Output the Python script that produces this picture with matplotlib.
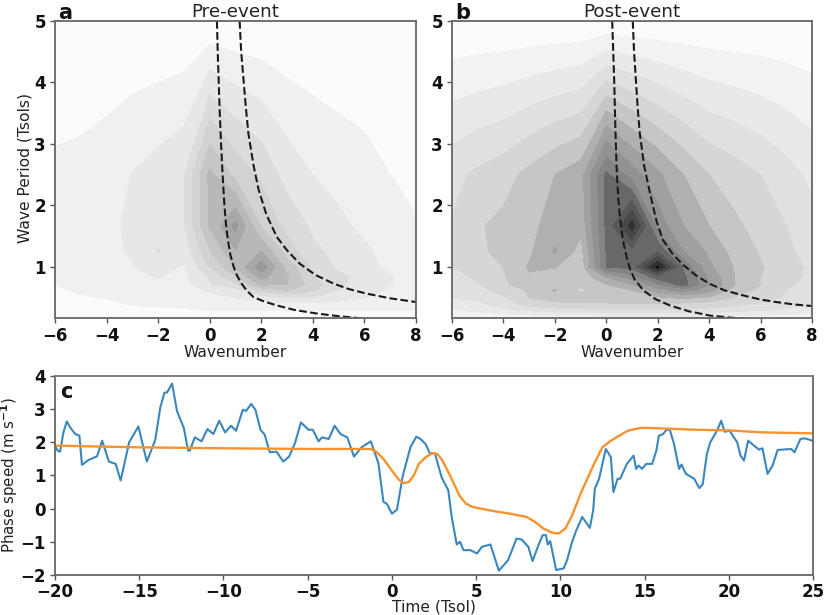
import numpy as np
import matplotlib
matplotlib.use("Agg")
import matplotlib.pyplot as plt

wavenumbers = [-6, -5, -4, -3, -2, -1, 0, 1, 2, 3, 4, 5, 6, 7, 8]
periods = [5.0, 2.5, 1.667, 1.25, 1.0, 0.833, 0.714, 0.625, 0.5, 0.4, 0.3, 0.2, 0.14]

power_pre = [
    [.05, .05, .05, .05, .05, .05, .05, .05, .05, .05, .05, .05, .05, .05, .05],
    [1.21, 1.32, 1.58, 2.03, 2.42, 2.9, 6.25, 4.7, 3.8, 2.6, 2.0, 1.63, 1.37, 1.0, .85],
    [1.5, 1.6, 1.75, 2.2, 2.7, 2.9, 6.1, 8.3, 4.9, 3.7, 2.8, 2.25, 1.75, 1.3, 1.05],
    [1.45, 1.55, 1.75, 2.1, 3.05, 2.3, 4.9, 6.9, 7.0, 4.5, 3.2, 2.75, 2.2, 1.6, 1.2],
    [1.35, 1.5, 1.7, 1.95, 2.4, 1.9, 4.0, 6.0, 8.6, 5.6, 3.8, 2.8, 2.4, 1.7, 1.35],
    [1.1, 1.35, 1.5, 1.6, 2.05, 1.75, 3.1, 4.8, 7.3, 6.1, 4.1, 3.3, 2.6, 2.1, 1.4],
    [1.0, 1.25, 1.45, 1.55, 1.7, 1.6, 2.9, 3.6, 6.2, 6.0, 4.5, 3.1, 2.7, 2.05, 1.4],
    [.85, 1.15, 1.3, 1.4, 1.6, 1.6, 2.1, 2.6, 4.3, 5.1, 4.2, 3.0, 2.5, 1.85, 1.3],
    [.5, .9, 1.05, 1.3, 1.45, 1.5, 1.8, 2.0, 2.5, 3.0, 2.9, 2.4, 2.0, 1.7, 1.3],
    [.3, .5, .8, 1.1, 1.2, 1.3, 1.4, 1.5, 1.6, 1.8, 1.8, 1.7, 1.6, 1.5, 1.3],
    [.2, .3, .5, .7, .8, .9, 1.05, 1.1, 1.1, 1.1, 1.1, 1.05, 1.05, 1.05, 1.05],
    [.1, .1, .15, .2, .2, .2, .2, .2, .2, .2, .2, .2, .2, .2, .2],
    [.05, .05, .05, .05, .05, .05, .05, .05, .05, .05, .05, .05, .05, .05, .05],
]

power_post = [
    [.1, .1, .1, .1, .1, .1, .1, .1, .1, .1, .1, .1, .1, .1, .1],
    [3.7, 4.2, 4.6, 5.3, 6.0, 6.6, 10.2, 8.5, 7.2, 6.0, 5.0, 4.5, 4.0, 3.4, 2.75],
    [4.05, 4.9, 5.25, 5.6, 6.6, 6.3, 10.2, 13.5, 8.6, 7.0, 6.0, 5.2, 4.6, 4.0, 3.3],
    [4.1, 4.85, 5.2, 5.8, 7.1, 5.6, 10.05, 10.6, 10.9, 8.0, 6.8, 5.6, 4.9, 4.2, 3.6],
    [3.95, 4.5, 5.0, 6.1, 6.05, 5.3, 10.0, 10.3, 14.2, 9.8, 7.2, 5.9, 5.1, 4.4, 3.8],
    [3.6, 4.2, 4.9, 5.9, 5.5, 5.2, 7.0, 8.5, 10.5, 10.3, 7.8, 6.0, 5.0, 4.4, 3.7],
    [3.3, 3.9, 4.9, 5.3, 5.4, 5.3, 6.0, 7.0, 8.8, 10.4, 8.0, 6.0, 5.0, 4.2, 3.6],
    [3.1, 3.6, 4.5, 5.1, 6.1, 4.7, 5.9, 6.0, 7.5, 8.5, 7.5, 5.5, 4.8, 4.0, 3.5],
    [3.0, 3.1, 3.8, 5.0, 5.4, 5.4, 5.5, 5.5, 5.8, 6.2, 5.8, 4.9, 4.3, 3.9, 3.3],
    [2.6, 2.9, 3.3, 4.5, 4.8, 4.9, 4.9, 5.0, 4.9, 4.8, 4.6, 4.2, 3.9, 3.5, 3.1],
    [1.9, 2.3, 2.8, 3.2, 3.6, 3.8, 3.9, 3.9, 3.9, 3.9, 3.7, 3.4, 3.1, 2.9, 2.6],
    [1.2, 1.3, 1.5, 1.7, 1.8, 1.9, 2.0, 2.0, 2.0, 2.0, 2.0, 1.9, 1.8, 1.7, 1.5],
    [.3, .3, .3, .3, .3, .3, .3, .3, .3, .3, .3, .3, .3, .3, .3],
]

levels = list(range(0, 18))
greys_pre = ['#fbfbfb', '#f0f0f0', '#e7e7e7', '#dcdcdc', '#d2d2d2', '#c6c6c6', '#b8b8b8',
             '#a8a8a8', '#989898', '#8c8c8c', '#7c7c7c', '#6c6c6c', '#5c5c5c', '#4c4c4c',
             '#3c3c3c', '#2c2c2c', '#1c1c1c']
greys_post = ['#fbfbfb', '#f2f2f2', '#e9e9e9', '#e0e0e0', '#d6d6d6', '#c6c6c6', '#b0b0b0',
              '#a0a0a0', '#929292', '#848484', '#686868', '#585858', '#484848', '#303030',
              '#0a0a0a', '#0a0a0a', '#0a0a0a']

curve_a_low_k = [.28, .31, .35, .39, .44, .5, .57, .63, .70, .8, .93, 1.07, 1.25, 1.45, 1.7, 2.1, 2.6, 3.3, 4.2, 5, 6]
curve_a_low_t = [5, 4.5, 4, 3.5, 3, 2.5, 2.0, 1.7, 1.45, 1.2, 1.0, .85, .72, .61, .51, .44, .375, .30, .24, .2, .16]
curve_a_high_k = [1.16, 1.22, 1.32, 1.4, 1.5, 1.7, 1.9, 2.2, 2.6, 3.0, 3.5, 4.1, 4.8, 5.4, 6.1, 7, 8]
curve_a_high_t = [5, 4.5, 4, 3.6, 3.17, 2.65, 2.25, 1.85, 1.49, 1.27, 1.05, .87, .73, .64, .565, .49, .43]
curve_b_low_k = [.23, .27, .31, .35, .40, .46, .53, .64, .79, .93, 1.1, 1.44, 1.9, 2.47, 3.2, 4.03, 5, 6.1]
curve_b_low_t = [5, 4.5, 4, 3.3, 2.63, 2.15, 1.82, 1.45, 1.16, .96, .8, .62, .48, .375, .28, .21, .17, .14]
curve_b_high_k = [1.03, 1.08, 1.15, 1.22, 1.3, 1.47, 1.7, 1.95, 2.2, 2.6, 3, 3.5, 4, 4.6, 5.3, 6, 6.6, 7.3, 8]
curve_b_high_t = [5, 4.5, 4.05, 3.6, 3.18, 2.65, 2.2, 1.75, 1.44, 1.2, 1.03, .86, .73, .62, .54, .47, .43, .39, .365]

time_blue = [-20, -19.85, -19.7, -19.5, -19.3, -19.1, -18.8, -18.55, -18.4, -18.0, -17.5, -17.2, -16.8, -16.4,
             -16.1, -15.6, -15.05, -14.55, -14.05, -13.75, -13.5, -13.35, -13.05, -12.75, -12.35, -12.1, -12,
             -11.7, -11.3, -10.95, -10.6, -10.25, -9.9, -9.55, -9.25, -8.85, -8.65, -8.35, -8.1, -7.8, -7.55,
             -7.25, -6.85, -6.45, -6.1, -5.75, -5.4, -4.95, -4.7, -4.35, -4.15, -3.75, -3.4, -3.05, -2.65,
             -2.25, -1.8, -1.25, -.8, -.5, -.3, 0, .3, .65, 1.1, 1.45, 1.7, 2.0, 2.25, 2.55, 2.95, 3.35, 3.55,
             3.85, 4.05, 4.25, 4.65, 5.05, 5.35, 5.85, 6.35, 6.9, 7.4, 7.7, 8.1, 8.35, 8.7, 8.95, 9.15, 9.25,
             9.4, 9.75, 10.2, 10.4, 10.7, 10.95, 11.3, 11.75, 11.95, 12.05, 12.3, 12.7, 13, 13.15, 13.4, 13.55,
             13.95, 14.35, 14.5, 14.65, 14.85, 15.1, 15.45, 15.7, 15.85, 16.1, 16.3, 16.5, 16.75, 17.05, 17.2,
             17.45, 17.95, 18.25, 18.45, 18.7, 18.9, 19.3, 19.55, 19.75, 20.05, 20.5, 20.7, 20.9, 21.15, 21.5,
             21.8, 22, 22.3, 22.6, 22.9, 23.7, 23.9, 24.25, 24.5, 24.85, 25]
speed_blue = [1.9, 1.75, 1.72, 2.3, 2.63, 2.45, 2.25, 2.2, 1.32, 1.47, 1.58, 2.05, 1.42, 1.35,
              .85, 2.0, 2.48, 1.42, 2.07, 3.05, 3.5, 3.5, 3.77, 2.93, 2.43, 1.75, 1.75,
              2.15, 2.03, 2.4, 2.25, 2.65, 2.3, 2.5, 2.35, 2.98, 2.95, 3.16, 2.98, 2.38, 2.23,
              1.7, 1.72, 1.42, 1.57, 1.98, 2.6, 2.38, 2.38, 2.03, 2.15, 2.1, 2.5, 2.25, 2.15,
              1.57, 1.85, 2.03, 1.37, .2, .15, -.15, -.03, 1.0, 1.85, 2.17, 2.1, 1.95, 1.67, 1.67, .95, .55, -.25,
              -1.08, -1.0, -1.25, -1.25, -1.35, -1.15, -1.08, -1.87, -1.55, -.9, -.93, -1.15, -1.58, -1.1, -.8, -.8, -1.08,
              -.98, -1.85, -1.8, -1.55, -1.0, -.65, -.25, -.58, -.05, .6, .9, 1.8, 1.55, .5, .9, .9,
              1.35, 1.6, 1.2, 1.3, 1.2, 1.35, 1.35, 1.75, 2.2, 2.25, 2.38, 2.38, 1.95, 1.2, 1.33,
              1.05, .9, .62, .73, 1.65, 2.0, 2.35, 2.65, 2.32, 2.35, 2.0, 1.6, 1.45, 2.05, 1.9,
              1.78, 1.82, 1.05, 1.3, 1.77, 1.8, 1.7, 2.1, 2.12, 2.07, 2.03]
time_orange = [-20, -15, -10, -5, -2, -1.3, -1, -.5, 0, .4, .7, 1, 1.3, 1.6, 2, 2.4, 2.7, 3, 3.5, 4, 4.4, 4.8,
               6, 7, 8, 8.5, 9, 9.5, 9.9, 10.3, 10.7, 11.2, 12, 12.5, 13, 14, 14.8, 16, 18, 20, 22, 25]
speed_orange = [1.9, 1.85, 1.82, 1.8, 1.8, 1.8, 1.75, 1.5, 1.15, .88, .77, .8, 1.0, 1.35, 1.55, 1.67, 1.65, 1.45,
                .95, .4, .15, .05, -.07, -.15, -.25, -.4, -.6, -.72, -.75, -.6, -.2, .45, 1.35, 1.85, 2.05,
                2.35, 2.44, 2.42, 2.38, 2.36, 2.3, 2.27]

plt.rcParams['font.family'] = 'DejaVu Sans'
W, H = 825, 615
fig = plt.figure(figsize=(W / 100, H / 100), dpi=100)


def add_axes(x0, x1, ytop, ybot):
    return fig.add_axes([x0 / W, 1 - ybot / H, (x1 - x0) / W, (ybot - ytop) / H])


def style(ax):
    for s in ax.spines.values():
        s.set_color('#666666')
        s.set_linewidth(1.3)
    ax.tick_params(length=3.5, width=1.0, color='#555555', labelsize=12, pad=3, labelcolor='#111111')
    for t in ax.get_xticklabels() + ax.get_yticklabels():
        t.set_fontweight('bold')


def spectrum(ax, z, greys, lk, lt, hk, ht, title, letter, lx):
    ax.contourf(wavenumbers, periods, np.array(z), levels=levels, colors=greys)
    ax.plot(lk, lt, color='#1a1a1a', ls='--', lw=1.5)
    ax.plot(hk, ht, color='#1a1a1a', ls='--', lw=1.5)
    ax.set_xlim(-6, 8)
    ax.set_ylim(0.17, 5)
    ax.set_xticks([-6, -4, -2, 0, 2, 4, 6, 8])
    ax.set_yticks([1, 2, 3, 4, 5])
    style(ax)
    ax.set_xlabel('Wavenumber', fontsize=11.2, color='#222222', va='top')
    ax.xaxis.set_label_coords(0.5, -0.092)
    ax.set_title(title, fontsize=13.2, color='#222222', pad=3)
    fig.text(lx / W, 1 - 13 / H, letter, fontsize=15, fontweight='bold', ha='left', va='center', color='#111111')


ax_a = add_axes(55, 416, 21, 318)
ax_b = add_axes(452, 812, 21, 318)
spectrum(ax_a, power_pre, greys_pre, curve_a_low_k, curve_a_low_t, curve_a_high_k, curve_a_high_t, 'Pre-event', 'a', 58)
spectrum(ax_b, power_post, greys_post, curve_b_low_k, curve_b_low_t, curve_b_high_k, curve_b_high_t, 'Post-event', 'b', 455)
ax_a.set_ylabel('Wave Period (Tsols)', fontsize=11.2, color='#222222')
ax_a.yaxis.set_label_coords(-0.061, 0.505)

ax_c = add_axes(55, 813, 376, 575)
ax_c.plot(time_blue, speed_blue, color='#3a87bd', lw=1.5)
ax_c.plot(time_orange, speed_orange, color='#f7932f', lw=1.7)
ax_c.set_xlim(-20, 25)
ax_c.set_ylim(-2, 4)
ax_c.set_xticks(range(-20, 26, 5))
ax_c.set_yticks(range(-2, 5))
style(ax_c)
ax_c.tick_params(axis='x', pad=2)
ax_c.spines['top'].set_color('#777777')
ax_c.set_xlabel('Time (Tsol)', fontsize=11.2, color='#222222', va='top')
ax_c.xaxis.set_label_coords(0.5, -0.125)
ax_c.set_ylabel('Phase speed (m s$^{\\mathbf{-1}}$)', fontsize=10.8, color='#222222')
ax_c.yaxis.set_label_coords(-0.046, 0.5)
ax_c.text(60 / W, 1 - 392 / H, 'c', transform=fig.transFigure, fontsize=15, fontweight='bold', va='center', color='#111111')

fig.savefig('out.png', dpi=100)
